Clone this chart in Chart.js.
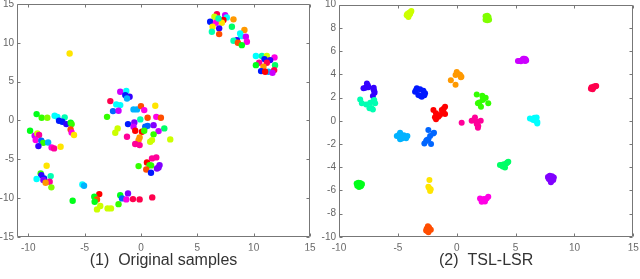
<!DOCTYPE html>
<html><head><meta charset="utf-8">
<script src="https://cdn.jsdelivr.net/npm/chart.js@4.4.1/dist/chart.umd.min.js"></script>
<style>
html,body{margin:0;padding:0;background:#fff;}
#wrap{position:relative;width:640px;height:279px;overflow:hidden;background:#fff;}
canvas{position:absolute;top:0;}
#c1{left:0;} #c2{left:320px;}
</style></head><body>
<div id="wrap"><canvas id="c1" width="320" height="279"></canvas><canvas id="c2" width="320" height="279"></canvas></div>
<script>
// 20 class colours (hsv colormap)
const classColors = ['#ff0000','#ff4d00','#ff9900','#ffe500','#ccff00','#80ff00','#33ff00','#00ff19','#00ff66','#00ffb2',
  '#00ffff','#00b2ff','#0066ff','#0019ff','#3300ff','#8000ff','#cc00ff','#ff00e5','#ff0099','#ff004d'];

// Panel (1): original samples
const leftX = [
  6.74,6.52,7.47,7.62,7.32,8.21,6.14,6.65,7.18,6.88,6.35,6.94,8.07,6.29,6.94,
  9.18,8.8,8.89,9.31,8.51,8.21,9.4,8.6,8.95,
  10.2,10.73,11.17,11.85,10.96,11.46,11.17,10.49,10.2,11.9,10.87,10.66,11.31,11.02,11.82,11.67,
  -6.33,
  -9.26,-8.81,-8.31,-7.66,-7.42,-6.77,-7.27,-6.98,-6.62,-6.24,-6.15,-6.24,-6.15,-5.94,
  -9.84,-9.43,-9.19,-9.04,-9.34,-8.84,-8.66,-8.24,-9.1,-7.93,-7.71,-7.13,
  -8.37,-8.9,-8.84,-8.6,-8.01,-9.26,-8.66,-8.1,-8.46,-7.95,
  -5.2,-5.05,
  -6.06,-3.7,-4.14,-3.9,-4.11,-3.61,-3.9,-2.96,-2.66,-1.99,-1.84,-1.68,-1.15,-1.3,-0.71,-0.12,1.0,
  -1.84,-1.3,-1.39,-1.01,-1.24,-2.72,-2.19,-1.84,-2.48,-1.99,-3.01,-0.66,-0.35,0.0,0.29,1.27,0.59,1.36,1.77,-0.06,
  -1.15,-0.59,0.38,0.59,1.12,2.07,-0.66,-0.51,0.09,0.29,1.56,1.12,-2.07,-2.28,-0.12,-0.21,-1.24,0.82,0.98,2.6,-0.51,-0.12,
  0.98,1.36,0.53,0.76,0.9,-0.21,1.56,1.42,1.65,0.47,0.89
];
const leftY = [
  13.7,13.35,13.57,13.27,12.93,13.02,12.71,12.58,12.58,13.14,12.06,11.86,12.06,11.42,11.12,
  11.64,11.21,10.86,10.78,10.35,10.26,10.13,10.0,9.7,
  8.29,8.29,8.29,8.12,7.9,7.77,7.42,7.42,7.12,7.12,6.91,6.35,6.26,6.26,6.48,6.13,
  8.63,
  0.81,0.34,0.34,0.59,0.46,0.39,-0.05,-0.18,-0.48,-0.31,-0.48,-1.16,-1.55,-1.89,
  -1.34,-1.98,-1.68,-1.89,-2.54,-2.63,-2.89,-2.84,-3.31,-3.48,-3.61,-3.4,
  -5.85,-6.83,-7.05,-7.47,-7.18,-7.56,-7.69,-7.91,-8.04,-8.63,
  -8.25,-8.43,
  -10.36,-9.5,-9.84,-10.18,-10.49,-11.04,-11.47,-11.34,-11.34,-10.79,-9.63,-10.05,-9.41,-10.18,-10.14,-10.18,-9.92,
  3.69,3.78,3.26,3.04,2.83,2.49,2.06,1.97,1.2,1.24,0.46,1.42,1.42,1.84,1.33,1.88,0.34,0.46,0.34,0.13,
  -0.48,-0.26,-0.82,-0.7,-0.61,-1.03,-0.82,-1.34,-1.47,-1.34,-1.38,-1.8,-1.03,-1.6,-2.19,-2.54,-2.11,-2.76,-2.54,-2.45,-3.05,-3.18,
  -4.9,-4.77,-5.41,-5.76,-5.8,-5.89,-6.06,-6.19,-5.76,-6.32,-6.75
];
const leftClass = [
  19,4,16,10,0,2,13,17,3,9,3,14,8,9,1,
  2,10,10,16,14,9,17,1,7,
  10,9,4,17,13,14,19,18,7,8,2,13,11,0,19,16,
  3,
  7,6,5,10,10,9,13,13,14,7,6,1,17,3,
  7,16,4,18,17,12,6,11,14,17,18,3,
  3,6,14,13,9,10,15,18,2,5,
  10,11,
  7,0,7,1,7,4,4,4,4,6,7,12,15,17,19,19,19,
  16,10,13,14,11,19,10,10,12,16,6,11,11,1,17,3,1,17,1,9,
  13,15,12,12,15,8,16,0,0,6,16,6,4,4,2,2,18,4,4,4,18,18,
  18,18,0,6,6,6,15,15,15,1,13
];

// Panel (2): TSL-LSR
const rightX = [
  -4.2,-4.05,-3.9,-3.95,-4.15,-4.1,-4.25,-4.0,-3.85,
  2.45,2.6,2.7,2.5,2.65,2.45,2.6,2.75,2.55,
  5.2,5.35,5.5,5.6,5.75,5.85,5.8,5.65,5.45,5.9,
  11.4,11.5,11.6,11.7,11.8,11.85,11.55,11.65,11.45,
  0.0,0.2,0.4,0.3,-0.1,-0.5,-0.1,0.35,
  -7.92,-7.63,-7.5,-7.75,-7.55,-7.07,-6.98,-7.12,-7.0,-7.05,
  -8.2,-8.06,-7.69,-7.35,-7.07,-6.93,-7.41,-7.12,-7.01,-7.25,
  -3.39,-3.54,-3.26,-2.97,-2.69,-2.83,-3.11,-3.45,-3.1,-2.75,
  -1.98,-1.76,-1.56,-1.76,-1.42,-1.27,-0.99,-0.99,-1.14,-1.85,-1.1,
  1.7,2.17,2.46,2.2,1.92,2.06,2.68,1.8,2.3,
  0.42,1.27,1.55,1.75,2.04,1.83,1.7,1.45,1.8,
  6.22,6.5,6.79,6.84,6.6,6.4,6.7,6.85,
  -4.81,-5.09,-4.66,-4.38,-4.19,-4.81,-4.9,-4.5,-4.75,-4.3,
  -2.41,-1.93,-2.26,-2.54,-2.75,-2.18,-2.41,-2.0,-2.6,
  3.82,4.1,4.24,4.38,3.67,3.9,4.3,4.0,
  -8.5,-8.35,-8.2,-8.05,-8.45,-8.3,-8.15,-8.25,-8.4,-8.1,
  -2.32,-2.41,-2.21,-2.26,-2.35,
  1.98,2.26,2.54,2.68,2.12,2.4,2.1,2.3,
  7.75,7.9,8.1,8.25,8.2,8.05,7.85,8.0,7.8,8.15,
  -2.45,-2.35,-2.55,-2.3,-2.5,-2.4,-2.6,-2.2
];
const rightY = [
  9.2,9.3,9.4,9.25,9.05,8.95,9.1,9.15,9.45,
  9.0,9.05,8.95,8.85,8.8,8.7,8.65,8.7,8.95,
  5.15,5.15,5.2,5.25,5.35,5.3,5.15,5.35,5.12,5.2,
  2.75,2.8,2.85,2.92,2.98,3.0,2.72,2.95,2.88,
  4.2,4.0,3.8,3.95,3.95,3.5,3.1,3.75,
  2.79,3.22,2.88,2.85,3.05,2.7,2.41,2.13,2.55,2.85,
  1.84,1.5,1.41,1.55,1.72,1.5,1.07,0.98,1.78,1.1,
  2.79,2.5,2.22,2.07,2.36,2.59,2.71,2.65,2.15,2.2,
  0.92,0.64,0.35,0.12,0.49,0.92,1.21,0.58,0.78,0.3,1.05,
  2.27,2.16,1.98,1.78,1.58,1.21,1.5,1.5,1.9,
  -0.17,0.0,0.29,-0.08,0.0,-0.46,-0.28,0.05,-0.6,
  0.2,0.06,0.29,-0.23,0.25,0.15,0.0,-0.1,
  -1.03,-1.32,-1.52,-1.38,-1.32,-1.6,-1.2,-1.25,-1.35,-1.5,
  -0.8,-1.03,-1.32,-1.66,-1.95,-2.01,-1.6,-1.1,-1.75,
  -3.82,-4.02,-3.67,-3.53,-3.82,-3.95,-3.6,-3.75,
  -5.4,-5.35,-5.37,-5.45,-5.6,-5.7,-5.65,-5.5,-5.5,-5.55,
  -5.11,-5.69,-5.91,-6.06,-5.8,
  -6.69,-6.9,-6.69,-6.55,-6.98,-6.95,-6.8,-6.75,
  -4.85,-4.75,-4.78,-4.9,-5.1,-5.2,-5.05,-5.3,-4.95,-5.0,
  -9.1,-9.2,-9.3,-9.35,-9.5,-9.6,-9.45,-9.4
];
const rightClass = [
  4,4,4,4,4,4,4,4,4,
  5,5,5,5,5,5,5,5,5,
  16,16,16,16,16,16,16,16,16,16,
  19,19,19,19,19,19,19,19,19,
  2,2,2,2,2,2,2,2,
  14,14,14,14,14,14,14,14,14,14,
  9,9,9,9,9,9,9,9,9,9,
  13,13,13,13,13,13,13,13,13,13,
  0,0,0,0,0,0,0,0,0,0,0,
  6,6,6,6,6,6,6,6,6,
  18,18,18,18,18,18,18,18,18,
  10,10,10,10,10,10,10,10,
  11,11,11,11,11,11,11,11,11,11,
  12,12,12,12,12,12,12,12,12,
  8,8,8,8,8,8,8,8,
  7,7,7,7,7,7,7,7,7,7,
  3,3,3,3,3,
  17,17,17,17,17,17,17,17,
  15,15,15,15,15,15,15,15,15,15,
  1,1,1,1,1,1,1,1
];

const leftXTicks = [-10,-5,0,5,10,15];
const leftYTicks = [-15,-10,-5,0,5,10,15];
const rightXTicks = [-10,-5,0,5,10,15];
const rightYTicks = [-10,-8,-6,-4,-2,0,2,4,6,8,10];
const panelTitles = ['(1)  Original samples', '(2)  TSL-LSR'];

const FONT = "'Liberation Sans', Arial, Helvetica, sans-serif";

const framePlugin = {
  id: 'frame',
  afterDraw(chart) {
    const {ctx, chartArea: a, scales: {x, y}} = chart;
    ctx.save();
    ctx.strokeStyle = '#777';
    ctx.lineWidth = 1;
    const L = Math.round(a.left) + 0.5, R = Math.round(a.right) - 0.5;
    const T = Math.round(a.top) + 0.5, B = Math.round(a.bottom) - 0.5;
    ctx.beginPath();
    ctx.rect(L, T, R - L, B - T);
    const tl = 3;
    x.ticks.forEach(t => {
      const p = Math.round(x.getPixelForValue(t.value)) + 0.5;
      ctx.moveTo(p, B); ctx.lineTo(p, B - tl);
      ctx.moveTo(p, T); ctx.lineTo(p, T + tl);
    });
    y.ticks.forEach(t => {
      const p = Math.round(y.getPixelForValue(t.value)) + 0.5;
      ctx.moveTo(L, p); ctx.lineTo(L + tl, p);
      ctx.moveTo(R, p); ctx.lineTo(R - tl, p);
    });
    ctx.stroke();
    ctx.restore();
  }
};

function makePanel(id, xs, ys, cs, xr, yr, xTicks, yTicks, yW, pad, title, radius) {
  const pts = xs.map((v, i) => ({x: v, y: ys[i]}));
  const cols = cs.map(c => classColors[c]);
  const tickFont = {family: FONT, size: 10};
  new Chart(document.getElementById(id), {
    type: 'scatter',
    data: {datasets: [{data: pts, pointBackgroundColor: cols, pointBorderWidth: 0,
      pointBorderColor: cols, pointRadius: radius, pointHoverRadius: radius}]},
    options: {
      responsive: false, animation: false, devicePixelRatio: 1,
      layout: {padding: pad},
      plugins: {
        legend: {display: false}, tooltip: {enabled: false},
        title: {display: true, text: title, position: 'bottom', fullSize: false, color: '#333',
          font: {family: FONT, size: 16, weight: 'normal'}, padding: {top: 0, bottom: 9}}
      },
      scales: {
        x: {type: 'linear', min: xr[0], max: xr[1],
          grid: {display: false, drawTicks: false}, border: {display: false},
          ticks: {font: tickFont, color: '#666', padding: 5, maxRotation: 0, autoSkip: false},
          afterBuildTicks: s => { s.ticks = xTicks.map(v => ({value: v})); },
          afterFit: s => { s.height = 14; s.paddingLeft = 0; s.paddingRight = 0; }
        },
        y: {type: 'linear', min: yr[0], max: yr[1],
          grid: {display: false, drawTicks: false}, border: {display: false},
          ticks: {font: tickFont, color: '#666', padding: 3, autoSkip: false},
          afterBuildTicks: s => { s.ticks = yTicks.map(v => ({value: v})); },
          afterFit: s => { s.width = yW; s.paddingTop = 0; s.paddingBottom = 0; }
        }
      }
    },
    plugins: [framePlugin]
  });
}

makePanel('c1', leftX, leftY, leftClass, [-11, 15], [-15, 15], leftXTicks, leftYTicks, 17,
  {left: 0, right: 10, top: 4, bottom: 0}, panelTitles[0], 3.2);
makePanel('c2', rightX, rightY, rightClass, [-10, 15], [-10, 10], rightXTicks, rightYTicks, 19,
  {left: 0, right: 6.7, top: 4.7, bottom: 0}, panelTitles[1], 3.0);
</script>
</body></html>
